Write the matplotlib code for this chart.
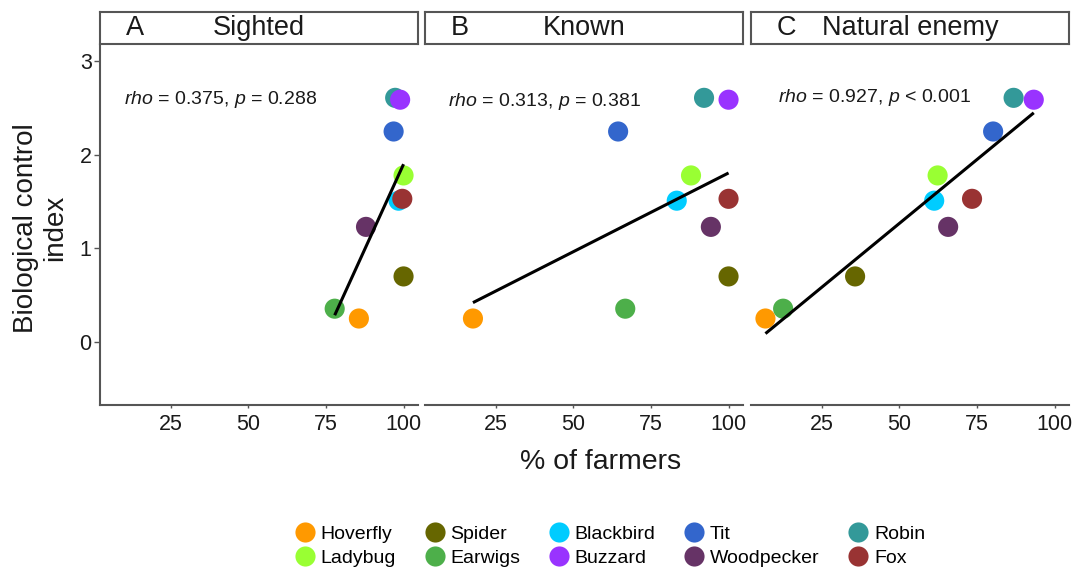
import numpy as np
import matplotlib
matplotlib.use("Agg")
import matplotlib.pyplot as plt
from matplotlib.lines import Line2D

plt.rcParams['font.family'] = ['Liberation Sans', 'DejaVu Sans']
plt.rcParams['mathtext.fontset'] = 'custom'
plt.rcParams['mathtext.rm'] = 'Liberation Sans'
plt.rcParams['mathtext.it'] = 'Liberation Sans:italic'

# ---------------- data ----------------
species = ['Hoverfly', 'Spider', 'Blackbird', 'Tit', 'Robin',
           'Ladybug', 'Earwigs', 'Buzzard', 'Woodpecker', 'Fox']
colors = ['#FF9900', '#666600', '#00CCFF', '#3366CC', '#339999',
          '#99FF33', '#4DAF4A', '#9933FF', '#663366', '#993333']
bci = [0.25, 0.70, 1.51, 2.25, 2.61, 1.78, 0.355, 2.59, 1.23, 1.53]

sighted = [85.6, 100.0, 98.4, 96.8, 97.3, 100.0, 77.8, 98.9, 87.9, 99.6]
known = [17.6, 100.0, 83.3, 64.4, 92.1, 87.9, 66.7, 100.0, 94.3, 100.0]
natural = [6.8, 35.7, 61.2, 80.2, 86.8, 62.3, 12.5, 93.3, 65.7, 73.4]

panel_letters = ['A', 'B', 'C']
panel_titles = ['Sighted', 'Known', 'Natural enemy']
stats = [r'$\mathit{rho}$ = 0.375, $\mathit{p}$ = 0.288',
         r'$\mathit{rho}$ = 0.313, $\mathit{p}$ = 0.381',
         r'$\mathit{rho}$ = 0.927, $\mathit{p}$ < 0.001']
xticks = [25, 50, 75, 100]
yticks = [0, 1, 2, 3]
legend_order = ['Hoverfly', 'Ladybug', 'Spider', 'Earwigs', 'Blackbird',
                'Buzzard', 'Tit', 'Woodpecker', 'Robin', 'Fox']

# ---------------- layout ----------------
W, H = 1078, 572
fig = plt.figure(figsize=(W / 100, H / 100), dpi=100)


def fx(px):
    return px / W


def fy(py):
    return 1 - py / H


lefts = [100, 425, 751]
pw = 318
ax_top, ax_bot = 45, 405
strip_top = 12
spine_col = '#555555'
text_pos = [(9.9, 2.59), (9.7, 2.57), (10.7, 2.61)]

all_x = sighted + known + natural
xr = max(all_x) - min(all_x)
xlim = (min(all_x) - 0.05 * xr, max(all_x) + 0.05 * xr)
ylim = (-0.5 - 0.05 * 3.5, 3.0 + 0.05 * 3.5)

for i, xs in enumerate([sighted, known, natural]):
    l = lefts[i]
    ax = fig.add_axes([fx(l), fy(ax_bot), pw / W, (ax_bot - ax_top) / H])
    for xv, yv, c in zip(xs, bci, colors):
        ax.scatter([xv], [yv], s=210, color=c, edgecolors='none', zorder=3)
    xa = np.array(xs)
    ya = np.array(bci)
    k, b = np.polyfit(xa, ya, 1)
    xl = np.array([xa.min(), xa.max()])
    ax.plot(xl, k * xl + b, color='black', lw=2.2, zorder=4,
            solid_capstyle='butt')
    ax.text(text_pos[i][0], text_pos[i][1], stats[i], ha='left', va='center',
            fontsize=14, color='#1a1a1a')
    ax.set_xlim(*xlim)
    ax.set_ylim(*ylim)
    ax.set_xticks(xticks)
    ax.set_xticklabels([str(t) for t in xticks])
    for s in ['top', 'right']:
        ax.spines[s].set_visible(False)
    ax.spines['bottom'].set_color(spine_col)
    ax.spines['bottom'].set_linewidth(1.5)
    ax.tick_params(axis='x', colors=spine_col, length=2.5, width=1, pad=4,
                   labelsize=15.5, labelcolor='#1a1a1a')
    if i == 0:
        ax.spines['left'].set_color(spine_col)
        ax.spines['left'].set_linewidth(1.5)
        ax.set_yticks(yticks)
        ax.set_yticklabels([str(t) for t in yticks])
        ax.tick_params(axis='y', colors=spine_col, length=4, width=1, pad=2,
                       labelsize=15.5, labelcolor='#1a1a1a')
    else:
        ax.spines['left'].set_visible(False)
        ax.set_yticks([])

    # strip
    sax = fig.add_axes([fx(l), fy(ax_top - 1), pw / W, (ax_top - 1 - strip_top) / H])
    sax.set_xticks([])
    sax.set_yticks([])
    for s in sax.spines.values():
        s.set_color(spine_col)
        s.set_linewidth(1.5)
    sax.text(35 / pw, 0.5, panel_letters[i], ha='center', va='center',
             fontsize=19.5, transform=sax.transAxes, color='#1a1a1a')
    sax.text(0.5, 0.5, panel_titles[i], ha='center', va='center',
             fontsize=19.5, transform=sax.transAxes, color='#1a1a1a')

fig.text(fx(601), fy(462), '% of farmers', ha='center', va='center',
         fontsize=20.5, color='#1a1a1a')
fig.text(fx(41), fy(228), 'Biological control\nindex', ha='center',
         va='center', rotation=90, fontsize=20, color='#1a1a1a',
         linespacing=1.15)

cmap = dict(zip(species, colors))
handles = [Line2D([], [], marker='o', ls='', markersize=14.5,
                  markerfacecolor=cmap[n], markeredgecolor='none', label=n)
           for n in legend_order]
fig.legend(handles=handles, ncol=5, loc='center',
           bbox_to_anchor=(fx(610), fy(546)), frameon=False, fontsize=14,
           handlelength=1.0, handletextpad=0.3, columnspacing=1.5,
           labelspacing=0.35, borderpad=0)

fig.savefig('out.png', dpi=100)
